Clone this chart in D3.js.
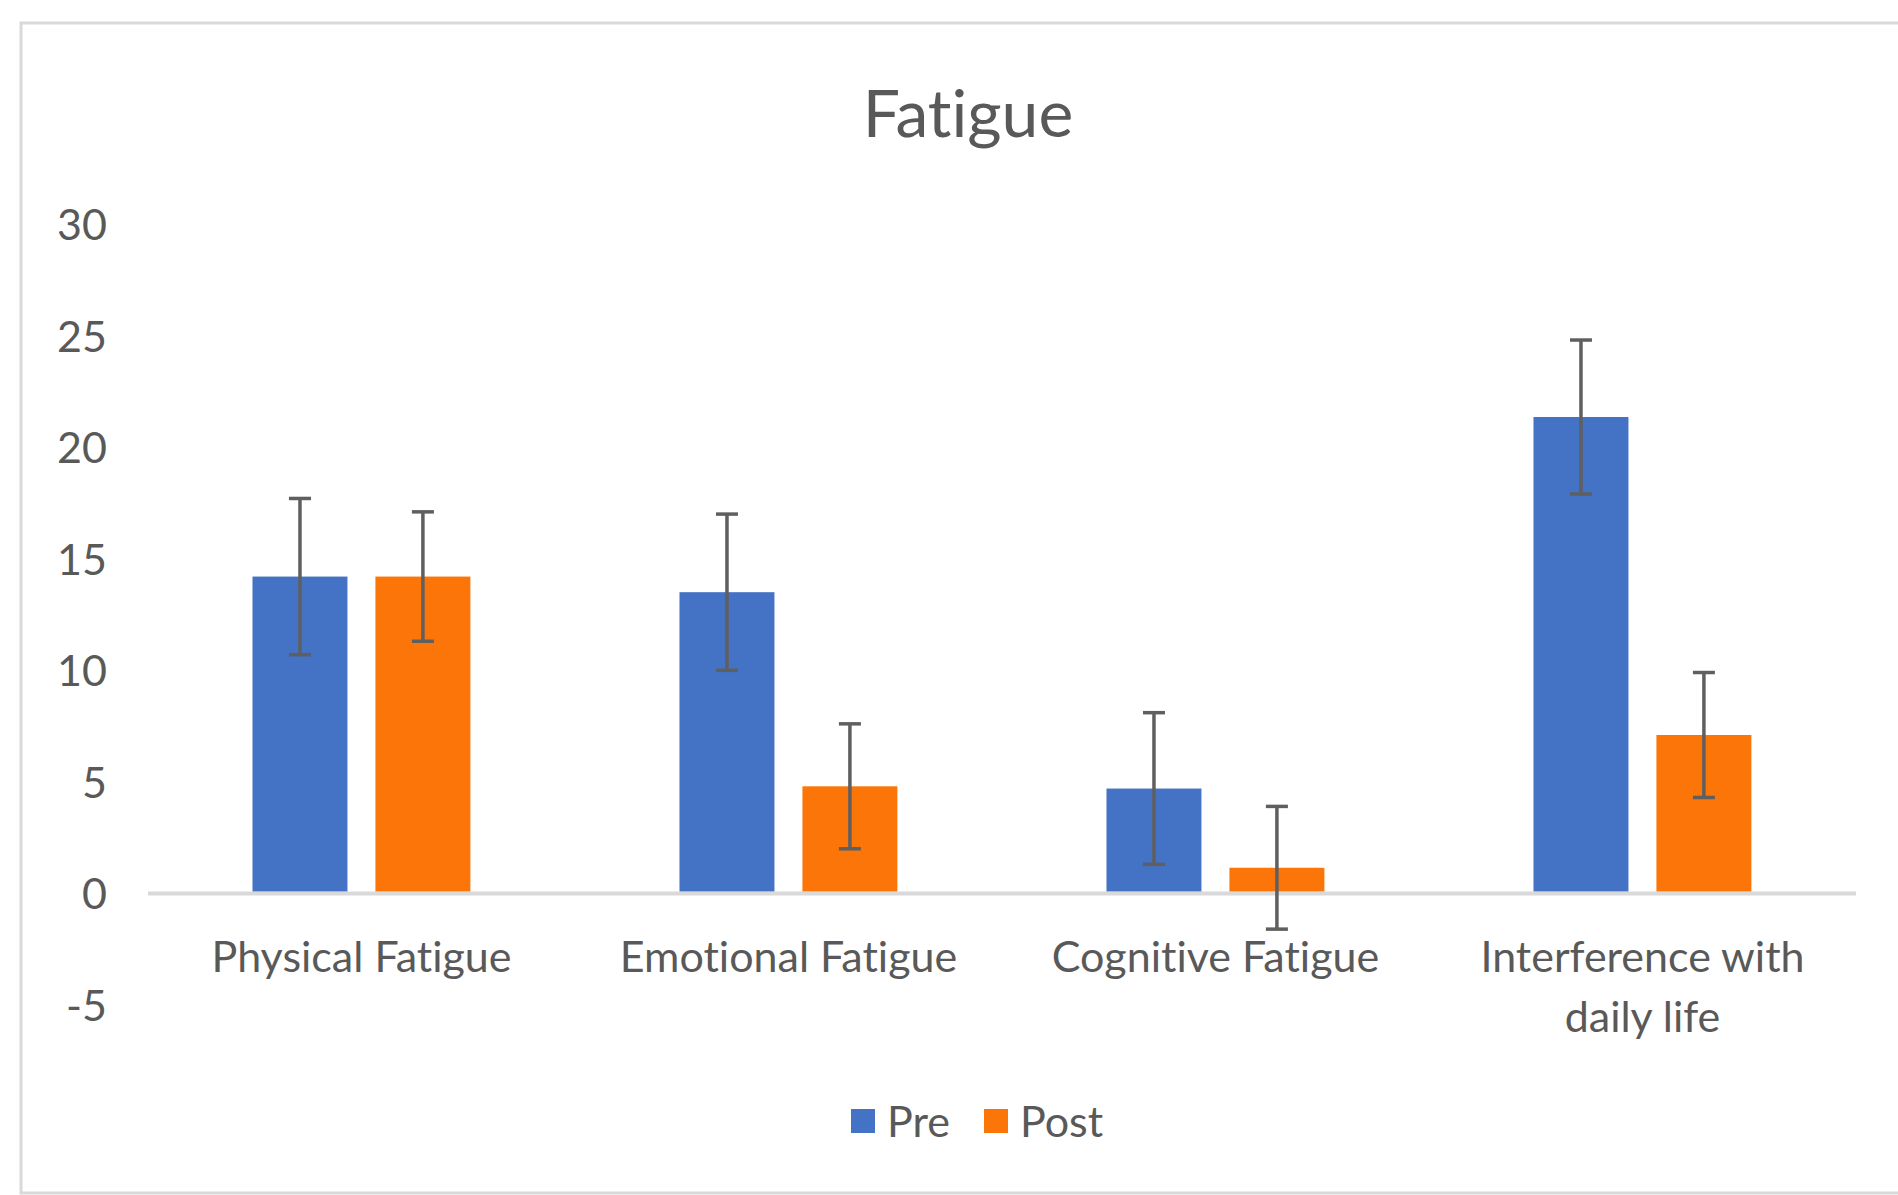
<!DOCTYPE html>
<html>
<head>
<meta charset="utf-8">
<script src="https://cdn.jsdelivr.net/npm/d3@7"></script>
<style>
  html, body { margin: 0; padding: 0; background: #ffffff; }
  svg { display: block; }
  text { font-variant-ligatures: none; font-feature-settings: "liga" 0, "clig" 0; }
</style>
</head>
<body>
<svg id="chart" width="1898" height="1195"></svg>
<script>
// ---- data ----
const title = "Fatigue";
const categories = ["Physical Fatigue", "Emotional Fatigue", "Cognitive Fatigue", "Interference with daily life"];
const categoryLines = [["Physical Fatigue"], ["Emotional Fatigue"], ["Cognitive Fatigue"], ["Interference with", "daily life"]];
const seriesNames = ["Pre", "Post"];
const preValues = [14.2, 13.5, 4.7, 21.35];
const postValues = [14.2, 4.8, 1.15, 7.1];
const preErrors = [3.5, 3.5, 3.4, 3.45];
const postErrors = [2.9, 2.8, 2.75, 2.8];
const yTicks = [-5, 0, 5, 10, 15, 20, 25, 30];
const seriesColors = ["#4472C4", "#FB7508"];

// ---- layout ----
const W = 1898, H = 1195;
const plot = { left: 148, right: 1856, top: 224, bottom: 1005 };
const font = "Lato, 'Open Sans', sans-serif";
const textColor = "#595959";

const svg = d3.select("#chart");

// chart frame
svg.append("rect")
  .attr("x", 21).attr("y", 23)
  .attr("width", W + 10).attr("height", 1170)
  .attr("fill", "#ffffff")
  .attr("stroke", "#d9d9d9").attr("stroke-width", 3);

const x0 = d3.scaleBand().domain(categories).range([plot.left, plot.right]).padding(0);
const bw = x0.bandwidth();
const x1 = d3.scaleBand().domain(seriesNames)
  .range([bw * 0.2447, bw * 0.755])
  .paddingInner(0.2276).paddingOuter(0);
const y = d3.scaleLinear().domain([-5, 30]).range([plot.bottom, plot.top]);

// title
svg.append("text")
  .attr("x", 968).attr("y", 137)
  .attr("text-anchor", "middle")
  .attr("font-family", font).attr("font-size", 66)
  .attr("fill", textColor)
  .text(title);

// y axis (labels only)
const yAxis = d3.axisLeft(y).tickValues(yTicks).tickSize(0).tickPadding(0).tickFormat(d3.format("d"));
const yg = svg.append("g").attr("transform", `translate(107,0)`).call(yAxis);
yg.select(".domain").remove();
yg.selectAll("text")
  .attr("font-family", font).attr("font-size", 43)
  .attr("fill", textColor)
  .attr("dy", "0.36em")
  .text(d => d < 0 ? "-" + Math.abs(d) : d);

// zero line
svg.append("line")
  .attr("x1", plot.left).attr("x2", plot.right)
  .attr("y1", y(0)).attr("y2", y(0))
  .attr("stroke", "#d9d9d9").attr("stroke-width", 4);

// bars
const rows = categories.map((c, i) => ({
  cat: c,
  vals: [
    { s: "Pre", v: preValues[i], e: preErrors[i], color: seriesColors[0] },
    { s: "Post", v: postValues[i], e: postErrors[i], color: seriesColors[1] }
  ]
}));

const groups = svg.append("g").selectAll("g").data(rows).join("g")
  .attr("transform", d => `translate(${x0(d.cat)},0)`);

groups.selectAll("rect").data(d => d.vals).join("rect")
  .attr("x", d => x1(d.s))
  .attr("width", x1.bandwidth())
  .attr("y", d => y(Math.max(0, d.v)))
  .attr("height", d => Math.abs(y(d.v) - y(0)) - 2)
  .attr("fill", d => d.color);

// error bars
const capW = 11;
const eb = groups.selectAll("g.err").data(d => d.vals).join("g").attr("class", "err")
  .attr("stroke", "#5f5f5f").attr("stroke-width", 3.5).attr("fill", "none");
eb.append("line")
  .attr("x1", d => x1(d.s) + x1.bandwidth() / 2).attr("x2", d => x1(d.s) + x1.bandwidth() / 2)
  .attr("y1", d => y(d.v + d.e)).attr("y2", d => y(d.v - d.e));
eb.append("line")
  .attr("x1", d => x1(d.s) + x1.bandwidth() / 2 - capW).attr("x2", d => x1(d.s) + x1.bandwidth() / 2 + capW)
  .attr("y1", d => y(d.v + d.e)).attr("y2", d => y(d.v + d.e));
eb.append("line")
  .attr("x1", d => x1(d.s) + x1.bandwidth() / 2 - capW).attr("x2", d => x1(d.s) + x1.bandwidth() / 2 + capW)
  .attr("y1", d => y(d.v - d.e)).attr("y2", d => y(d.v - d.e));

// category labels
const catLabels = svg.append("g").selectAll("text").data(categories).join("text")
  .attr("x", d => x0(d) + bw / 2)
  .attr("y", 972)
  .attr("text-anchor", "middle")
  .attr("font-family", font).attr("font-size", 43)
  .attr("fill", textColor);
catLabels.each(function(d, i) {
  const t = d3.select(this);
  categoryLines[i].forEach((line, j) => {
    t.append("tspan")
      .attr("x", x0(d) + bw / 2)
      .attr("dy", j === 0 ? 0 : 60)
      .text(line);
  });
});

// legend
const legendItems = [
  { name: seriesNames[0], color: seriesColors[0], x: 851 },
  { name: seriesNames[1], color: seriesColors[1], x: 984 }
];
const lg = svg.append("g").selectAll("g").data(legendItems).join("g")
  .attr("transform", d => `translate(${d.x},0)`);
lg.append("rect")
  .attr("x", 0).attr("y", 1109)
  .attr("width", 24).attr("height", 24)
  .attr("fill", d => d.color);
lg.append("text")
  .attr("x", 36).attr("y", 1137)
  .attr("font-family", font).attr("font-size", 43)
  .attr("fill", textColor)
  .text(d => d.name);
</script>
</body>
</html>
